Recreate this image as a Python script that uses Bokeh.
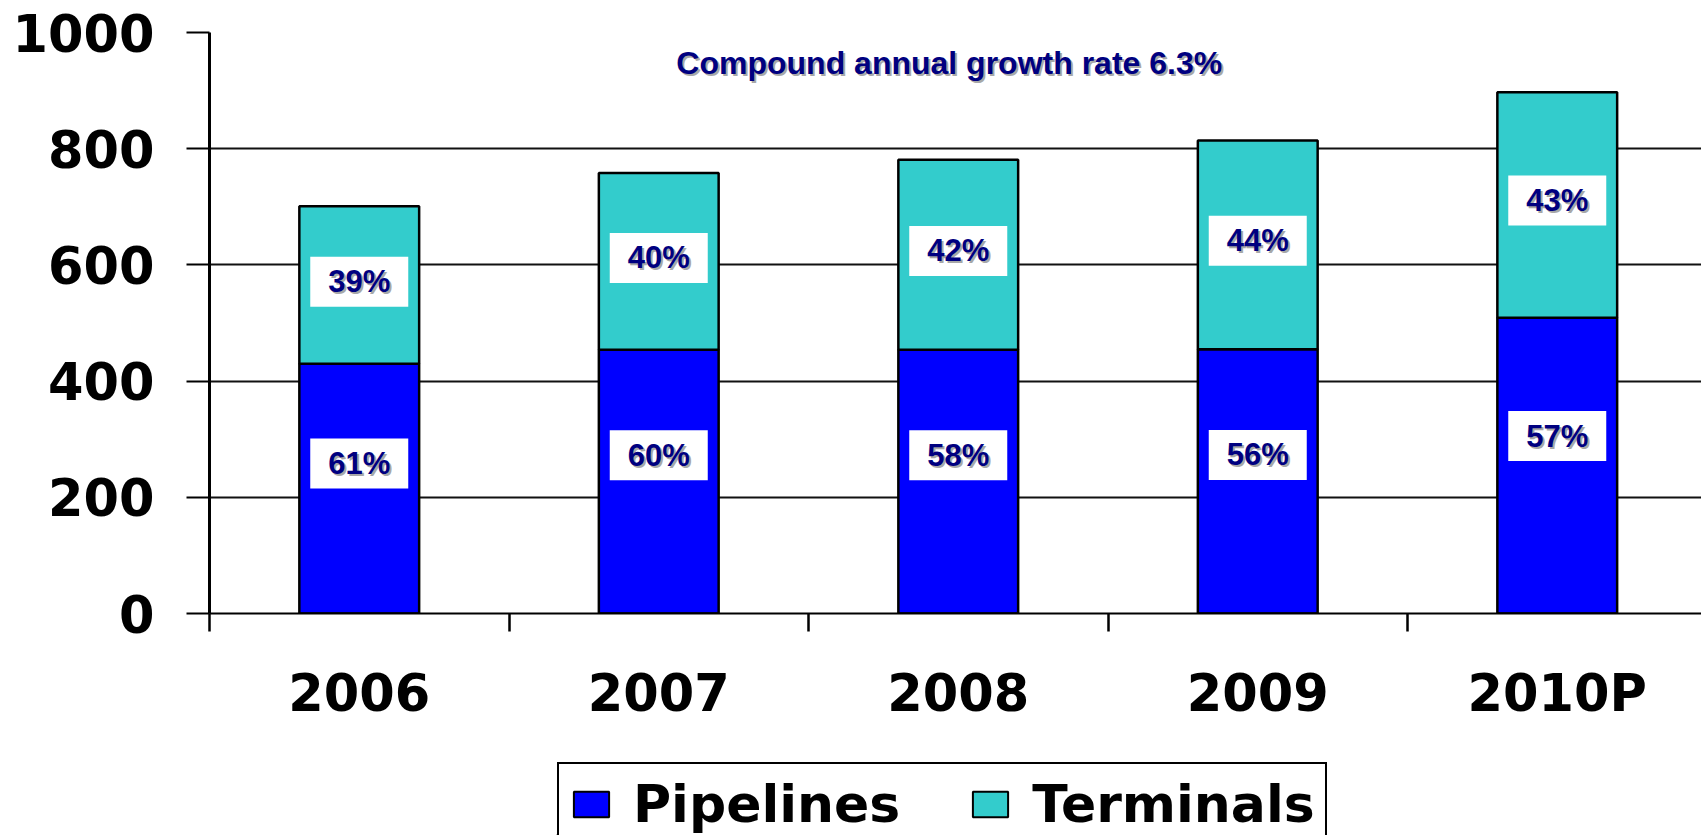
from bokeh.plotting import figure
from bokeh.layouts import column
from bokeh.models import Range1d, FixedTicker, Legend, LegendItem, ColumnDataSource
from bokeh.core.properties import value
from bokeh.embed import file_html
from bokeh.resources import INLINE

# ---- data ----
years = ["2006", "2007", "2008", "2009", "2010P"]
pipelines = [430, 454, 454, 455, 509]
terminals = [271, 304, 327, 359, 388]
pipe_pct = ["61%", "60%", "58%", "56%", "57%"]
term_pct = ["39%", "40%", "42%", "44%", "43%"]
y_ticks = [0, 200, 400, 600, 800, 1000]
series_names = ["Pipelines", "Terminals"]
title_text = "Compound annual growth rate 6.3%"

# ---- derived ----
xs = [i + 0.5 for i in range(len(years))]
totals = [a + b for a, b in zip(pipelines, terminals)]
pipe_lab_y = [0.6 * a for a in pipelines]
term_lab_y = [a + 0.52 * b for a, b in zip(pipelines, terminals)]

NAVY = "#000080"
SHADOW = "#a8a8a8"
BLUE = "#0000FF"
TEAL = "#33CCCC"

W = 1701
FRAME_LEFT = 209
CAT_PX = 299.5

p = figure(width=W, height=761, output_backend="svg", toolbar_location=None,
           x_range=Range1d(0, (W - FRAME_LEFT) / CAT_PX), y_range=Range1d(0, 1000),
           min_border_left=FRAME_LEFT, min_border_right=0, min_border_top=32,
           min_border_bottom=148)
p.frame_align = False
p.outline_line_color = None
p.background_fill_color = "white"
p.border_fill_color = "white"

src = ColumnDataSource(dict(x=xs, pipe=pipelines, total=totals,
                            pl=pipe_lab_y, tl=term_lab_y,
                            pp=pipe_pct, tp=term_pct))

# grid
p.xgrid.visible = False
p.ygrid.ticker = FixedTicker(ticks=y_ticks)
p.ygrid.grid_line_color = "#111111"
p.ygrid.grid_line_width = 2.2

# y axis
ya = p.yaxis[0]
ya.ticker = FixedTicker(ticks=y_ticks)
ya.axis_line_width = 3
ya.axis_line_color = "black"
ya.major_tick_out = 23
ya.major_tick_in = 0
ya.major_tick_line_width = 2.2
ya.major_tick_line_color = "black"
ya.minor_tick_line_color = None
ya.major_label_standoff = 32
ya.major_label_text_font = "DejaVu Sans"
ya.major_label_text_font_style = "bold"
ya.major_label_text_font_size = "51px"
ya.major_label_text_color = "black"

# x axis
xa = p.xaxis[0]
xa.ticker = FixedTicker(ticks=xs, minor_ticks=list(range(len(years) + 1)))
xa.major_label_overrides = {x: y for x, y in zip(xs, years)}
xa.axis_line_width = 2.2
xa.axis_line_color = "black"
xa.major_tick_line_color = None
xa.major_tick_out = 0
xa.major_tick_in = 0
xa.minor_tick_out = 18
xa.minor_tick_in = 0
xa.minor_tick_line_width = 2.5
xa.minor_tick_line_color = "black"
xa.major_label_standoff = 32
xa.major_label_text_font = "DejaVu Sans"
xa.major_label_text_font_style = "bold"
xa.major_label_text_font_size = "51px"
xa.major_label_text_color = "black"

# bars
r1 = p.vbar(x="x", width=0.4, bottom=0, top="pipe", source=src,
            fill_color=BLUE, line_color="black", line_width=2.5)
r2 = p.vbar(x="x", width=0.4, bottom="pipe", top="total", source=src,
            fill_color=TEAL, line_color="black", line_width=2.5)

# percent label boxes
for ycol, tcol in (("pl", "pp"), ("tl", "tp")):
    p.rect(x="x", y=ycol, width=98, height=50, width_units="screen",
           height_units="screen", fill_color="white", line_color=None, source=src)
    p.text(x="x", y=ycol, text=tcol, source=src, x_offset=2, y_offset=2,
           text_color=SHADOW, text_font=value("Liberation Sans"),
           text_font_style="bold", text_font_size="31px",
           text_align="center", text_baseline="middle")
    p.text(x="x", y=ycol, text=tcol, source=src,
           text_color=NAVY, text_font=value("Liberation Sans"),
           text_font_style="bold", text_font_size="31px",
           text_align="center", text_baseline="middle")

# in-plot title with shadow
tsrc = ColumnDataSource(dict(x=[2.47], y=[947], t=[title_text]))
p.text(x="x", y="y", text="t", source=tsrc, x_offset=2, y_offset=2,
       text_color=SHADOW, text_font=value("Liberation Sans"),
       text_font_style="bold", text_font_size="32px",
       text_align="center", text_baseline="alphabetic")
p.text(x="x", y="y", text="t", source=tsrc,
       text_color=NAVY, text_font=value("Liberation Sans"),
       text_font_style="bold", text_font_size="32px",
       text_align="center", text_baseline="alphabetic")

# ---- legend strip (separate figure so the legend is not clipped) ----
lf = figure(width=W, height=74, output_backend="svg", toolbar_location=None,
            x_range=Range1d(0, 1), y_range=Range1d(0, 1),
            x_axis_type=None, y_axis_type=None,
            min_border_left=556, min_border_right=0, min_border_top=0,
            min_border_bottom=0)
lf.frame_align = False
lf.outline_line_color = None
lf.grid.visible = False
lf.background_fill_color = "white"
lf.border_fill_color = "white"
# renderers kept outside the visible range: they only supply the legend swatches
d1 = lf.vbar(x=[-10], top=[0], width=0.4, fill_color=BLUE, line_color="black", line_width=2)
d2 = lf.vbar(x=[-10], top=[0], width=0.4, fill_color=TEAL, line_color="black", line_width=2)

legend = Legend(items=[LegendItem(label=series_names[0], renderers=[d1]),
                       LegendItem(label=series_names[1], renderers=[d2])],
                orientation="horizontal", location="top_left")
legend.label_text_font = "DejaVu Sans"
legend.label_text_font_style = "bold"
legend.label_text_font_size = "52px"
legend.label_text_color = "black"
legend.glyph_width = 44
legend.glyph_height = 32
legend.label_standoff = 20
legend.spacing = 68
legend.padding = 10
legend.margin = 1
legend.border_line_color = "black"
legend.border_line_alpha = 1.0
legend.border_line_width = 2
legend.background_fill_color = "white"
legend.background_fill_alpha = 1.0
lf.add_layout(legend, "center")

open("out.html", "w").write(file_html(column(p, lf), INLINE))
